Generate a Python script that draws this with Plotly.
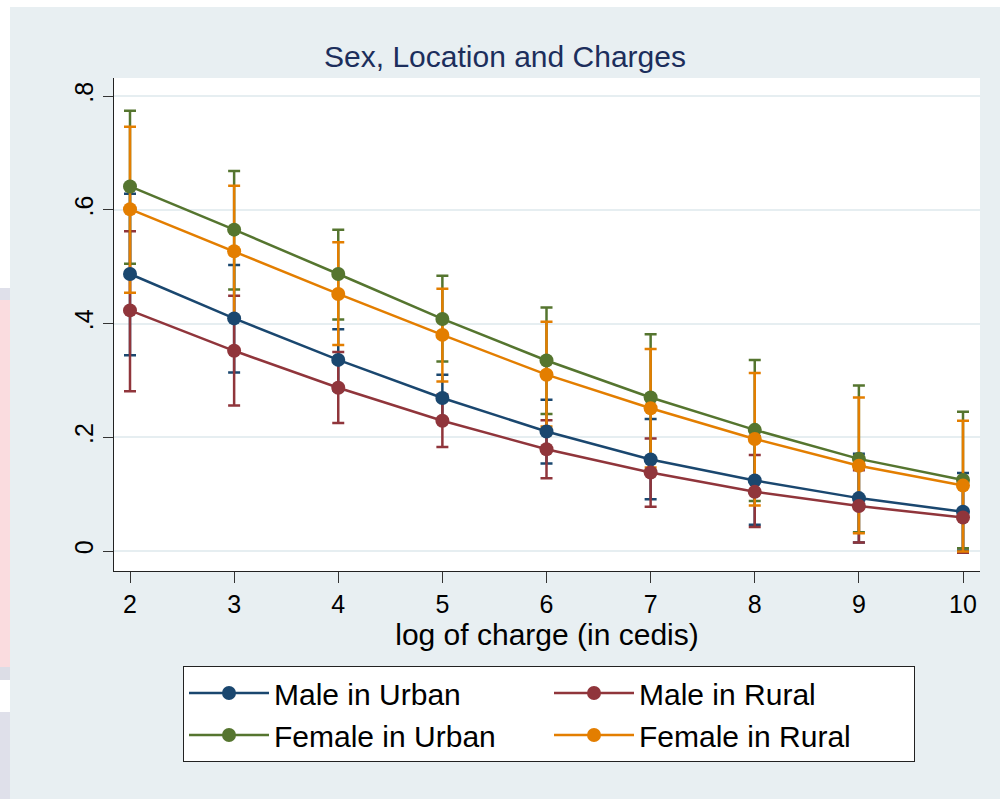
import plotly.graph_objects as go

# ---- data ----
x_vals = [2, 3, 4, 5, 6, 7, 8, 9, 10]
series_names = ["Male in Urban", "Male in Rural", "Female in Urban", "Female in Rural"]

male_urban = [0.487, 0.409, 0.336, 0.269, 0.210, 0.161, 0.124, 0.093, 0.069]
male_urban_hi = [0.628, 0.503, 0.390, 0.310, 0.266, 0.232, 0.202, 0.171, 0.137]
male_urban_lo = [0.344, 0.314, 0.282, 0.228, 0.154, 0.091, 0.046, 0.015, 0.001]

male_rural = [0.423, 0.352, 0.287, 0.229, 0.179, 0.138, 0.104, 0.079, 0.059]
male_rural_hi = [0.562, 0.449, 0.350, 0.275, 0.230, 0.198, 0.169, 0.142, 0.121]
male_rural_lo = [0.281, 0.256, 0.225, 0.183, 0.128, 0.078, 0.042, 0.015, -0.003]

female_urban = [0.641, 0.565, 0.487, 0.408, 0.335, 0.270, 0.213, 0.162, 0.125]
female_urban_hi = [0.774, 0.668, 0.565, 0.484, 0.428, 0.381, 0.336, 0.291, 0.245]
female_urban_lo = [0.505, 0.460, 0.407, 0.333, 0.241, 0.159, 0.088, 0.033, 0.005]

female_rural = [0.601, 0.527, 0.452, 0.380, 0.310, 0.251, 0.197, 0.150, 0.115]
female_rural_hi = [0.746, 0.642, 0.543, 0.461, 0.403, 0.355, 0.313, 0.270, 0.229]
female_rural_lo = [0.454, 0.412, 0.362, 0.298, 0.219, 0.147, 0.080, 0.031, -0.001]

y_tickvals = [0, 0.2, 0.4, 0.6, 0.8]
y_ticktext = ["0", ".2", ".4", ".6", ".8"]

colors = ["#1a476f", "#90353b", "#55752f", "#e37e00"]
BG = "#e8eff2"
GRID = "#e6eef1"

means = [male_urban, male_rural, female_urban, female_rural]
his = [male_urban_hi, male_rural_hi, female_urban_hi, female_rural_hi]
los = [male_urban_lo, male_rural_lo, female_urban_lo, female_rural_lo]

fig = go.Figure()

# confidence intervals first
for name, m, hi, lo, c in zip(series_names, means, his, los, colors):
    fig.add_trace(go.Scatter(
        x=x_vals, y=m, mode="markers",
        marker=dict(size=1, color="rgba(0,0,0,0)"),
        error_y=dict(type="data", symmetric=False,
                     array=[h - v for h, v in zip(hi, m)],
                     arrayminus=[v - l for v, l in zip(m, lo)],
                     color=c, thickness=2.5, width=6),
        showlegend=False, hoverinfo="skip"))

# lines and markers
for name, m, c in zip(series_names, means, colors):
    fig.add_trace(go.Scatter(
        x=x_vals, y=m, mode="lines+markers", name=name,
        line=dict(color=c, width=2.5),
        marker=dict(color=c, size=14)))

FONT = "Liberation Sans, Arial, sans-serif"
W, H = 1000, 799
L, R, T, B = 114, 20, 78, 228
pw, ph = W - L - R, H - T - B

def px(xp):
    return (xp - L) / pw

def py(yp):
    return (H - B - yp) / ph

shapes = [
    dict(type="rect", xref="paper", yref="paper", x0=px(0), x1=px(1000), y0=py(0), y1=py(7),
         fillcolor="white", line_width=0, layer="below"),
    dict(type="rect", xref="paper", yref="paper", x0=px(0), x1=px(10), y0=py(0), y1=py(799),
         fillcolor="white", line_width=0, layer="below"),
    dict(type="rect", xref="paper", yref="paper", x0=px(0), x1=px(10), y0=py(288), y1=py(300),
         fillcolor="#dfe0ea", line_width=0, layer="below"),
    dict(type="rect", xref="paper", yref="paper", x0=px(0), x1=px(10), y0=py(300), y1=py(667),
         fillcolor="#fadcdf", line_width=0, layer="below"),
    dict(type="rect", xref="paper", yref="paper", x0=px(0), x1=px(10), y0=py(667), y1=py(680),
         fillcolor="#dcdde6", line_width=0, layer="below"),
    dict(type="rect", xref="paper", yref="paper", x0=px(0), x1=px(10), y0=py(712), y1=py(799),
         fillcolor="#dfe0ea", line_width=0, layer="below"),
]

fig.update_layout(
    width=W, height=H,
    margin=dict(l=L, r=R, t=T, b=B, autoexpand=False),
    paper_bgcolor=BG, plot_bgcolor="white",
    font=dict(family=FONT, color="black"),
    title=dict(text="Sex, Location and Charges", font=dict(size=30, color="#1c2e5c", family=FONT),
               x=0.505, xref="container", xanchor="center",
               y=1 - 56 / H, yref="container", yanchor="middle"),
    xaxis=dict(range=[2 - 16 / 104.125, 10 + 17 / 104.125],
               tickvals=x_vals, ticks="outside", ticklen=11, tickcolor="#333", tickwidth=1,
               tickfont=dict(size=25), showgrid=False, zeroline=False,
               showline=True, linecolor="#222", linewidth=1,
               title=dict(text="log of charge (in cedis)", font=dict(size=30), standoff=4)),
    yaxis=dict(range=[-20 / 568.75, 473 / 568.75],
               tickvals=y_tickvals, ticktext=y_ticktext, tickangle=-90,
               ticks="outside", ticklen=10, tickcolor="#333", tickwidth=1,
               tickfont=dict(size=25), showgrid=True, gridcolor=GRID, gridwidth=2,
               zeroline=False, showline=True, linecolor="#222", linewidth=1),
    legend=dict(orientation="h", x=px(183), xanchor="left", y=py(666), yanchor="top",
                bgcolor="white", bordercolor="#222", borderwidth=1,
                font=dict(size=30), itemwidth=80,
                entrywidth=270, entrywidthmode="pixels"),
    shapes=shapes,
    showlegend=True,
)

fig.write_html("out.html")
